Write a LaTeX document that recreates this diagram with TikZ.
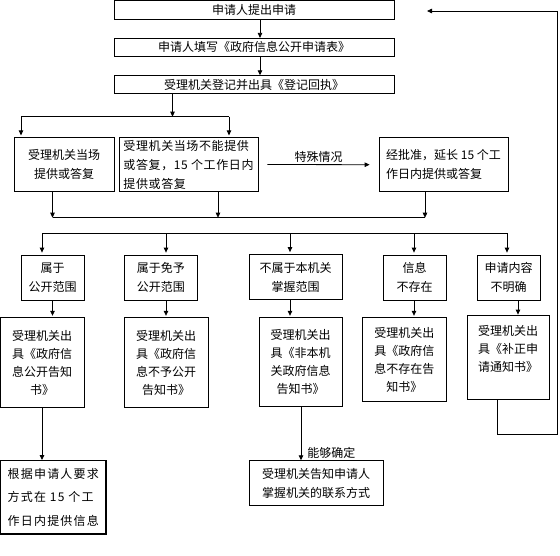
\documentclass[tikz,border=0pt]{standalone}
\usepackage{fontspec}
\setmainfont{Noto Sans CJK SC}
\usetikzlibrary{arrows.meta,calc}
\newcommand\fsA{\fontsize{12}{19}\selectfont}
\newcommand\fsB{\fontsize{12}{18}\selectfont}
\begin{document}
\begin{tikzpicture}[x=1pt,y=-1pt,
  box/.style={draw, line width=0.8pt, inner sep=0pt, align=center, font=\fsA},
  lbox/.style={box, align=left},
  dbox/.style={box, font=\fsB},
  arr/.style={-{Triangle[length=5pt,width=4.5pt]}, line width=0.8pt},
  ln/.style={line width=0.8pt}]
\fill[white] (0,0) rectangle (560,555);
\useasboundingbox (0,0) rectangle (560,555);

% top chain
\node[box, minimum width=280, minimum height=18.5] (b1) at (254,9.75) {申请人提出申请};
\node[box, minimum width=280, minimum height=17.7] (b2) at (254,47.15) {申请人填写《政府信息公开申请表》};
\node[box, minimum width=280, minimum height=17.6] (b3) at (254,84.5) {受理机关登记并出具《登记回执》};

% second row
\node[box, minimum width=100, minimum height=54.4] (b4) at (64,164.5) {受理机关当场\\提供或答复};
\node[lbox, minimum width=139, minimum height=54.4, font=\fsA\addfontfeature{LetterSpace=5}] (b5) at (188.5,164.5) {受理机关当场不能提供\\或答复，15 个工作日内\\提供或答复};
\node[lbox, minimum width=129, minimum height=54] (b6) at (443.5,164.7) {经批准，延长 15 个工\\作日内提供或答复};

% category row
\node[box, minimum width=63, minimum height=45] (c1) at (52.5,277.5) {属于\\公开范围};
\node[box, minimum width=73.5, minimum height=45] (c2) at (160.75,277.5) {属于免予\\公开范围};
\node[box, minimum width=93, minimum height=45] (c3) at (295.5,277) {不属于本机关\\掌握范围};
\node[box, minimum width=63, minimum height=45] (c4) at (414.5,277.5) {信息\\不存在};
\node[box, minimum width=63, minimum height=45] (c5) at (508.5,277.5) {申请内容\\不明确};

% notice row
\node[dbox, minimum width=83.5, minimum height=90] (d1) at (42.25,362.7) {受理机关出\\具《政府信\\息公开告知\\书》};
\node[dbox, minimum width=84, minimum height=90] (d2) at (166,362.7) {受理机关出\\具《政府信\\息不予公开\\告知书》};
\node[dbox, minimum width=83, minimum height=89] (d3) at (300.5,362.2) {受理机关出\\具《非本机\\关政府信息\\告知书》};
\node[dbox, minimum width=83.5, minimum height=84] (d4) at (404.25,359.7) {受理机关出\\具《政府信\\息不存在告\\知书》};
\node[dbox, minimum width=82, minimum height=84] (d5) at (508,357) {受理机关出\\具《补正申\\请通知书》\\\mbox{}};

% final row
\node[box, line width=1.3pt, minimum width=105.5, minimum height=73.3,
      font=\fontsize{12}{23.5}\selectfont\addfontfeature{LetterSpace=10}, align=left] (e1) at (53.25,497.35) {根据申请人要求\\方式在 15 个工\\作日内提供信息};
\node[box, minimum width=134, minimum height=45] (e2) at (316,483.2) {受理机关告知申请人\\掌握机关的联系方式};

% coordinates
\coordinate (j1) at (172.5,116.7);
\coordinate (j1L) at (21,116.7);
\coordinate (j1R) at (229,116.7);
\coordinate (k1) at (52.5,217.7);
\coordinate (k2) at (218,217.7);
\coordinate (k3) at (425,217.7);
\coordinate (m1) at (42,233.3);
\coordinate (m2) at (166,233.3);
\coordinate (m3) at (290,233.3);
\coordinate (m4) at (414,233.3);
\coordinate (m5) at (507,233.3);
\coordinate (fb1) at (557.5,434.3);
\coordinate (fbend) at (427,11);

% connectors
\draw[arr] ([xshift=6pt]b1.south) -- ([xshift=6pt]b2.north);
\draw[arr] ([xshift=6pt]b2.south) -- ([xshift=6pt]b3.north);
\draw[arr] (b3.south -| j1) -- (j1);
\draw[ln] (j1L) -- (j1R);
\draw[arr, shorten >=1.5pt] (j1L) -- (b4.north -| j1L);
\draw[arr, shorten >=1.5pt] (j1R) -- (b5.north -| j1R);
\draw[arr] ([xshift=9pt]b5.east) -- node[above, inner sep=1.5pt, font=\fsA] {特殊情况} ([xshift=-9pt]b6.west);

\draw[arr] (b4.south -| k1) -- (k1);
\draw[arr] (b5.south -| k2) -- (k2);
\draw[arr] (b6.south -| k3) -- (k3);
\draw[ln] (k1) -- (k3);

\draw[ln] (m1) -- (m5);
\draw[arr, shorten >=2pt] (m1) -- (c1.north -| m1);
\draw[arr, shorten >=2pt] (m2) -- (c2.north -| m2);
\draw[arr, shorten >=2pt] (m3) -- (c3.north -| m3);
\draw[arr, shorten >=2pt] (m4) -- (c4.north -| m4);
\draw[arr, shorten >=2pt] (m5) -- (c5.north -| m5);

\draw[arr, shorten >=1.5pt] (c1.south) -- (d1.north -| c1.south);
\draw[arr, shorten >=1.5pt] (c2.south -| m2) -- (d2.north -| m2);
\draw[arr, shorten >=1.5pt] (c3.south -| m3) -- (d3.north -| m3);
\draw[arr, shorten >=1.5pt] (c4.south -| m4) -- (d4.north -| m4);
\draw[arr] ([xshift=9.5pt]c5.south) -- ([xshift=10pt]d5.north);

\draw[arr] (d1.south -| m1) -- (e1.north -| m1);
\draw[arr] ([xshift=0.5pt]d3.south) -- node[pos=0.86, right=6pt, inner sep=0pt, font=\fsA] {能够确定} ([xshift=0.5pt]e2.north -| d3.south);

\draw[arr] ([xshift=-10.5pt]d5.south) |- (fb1) |- (fbend);
\end{tikzpicture}
\end{document}
